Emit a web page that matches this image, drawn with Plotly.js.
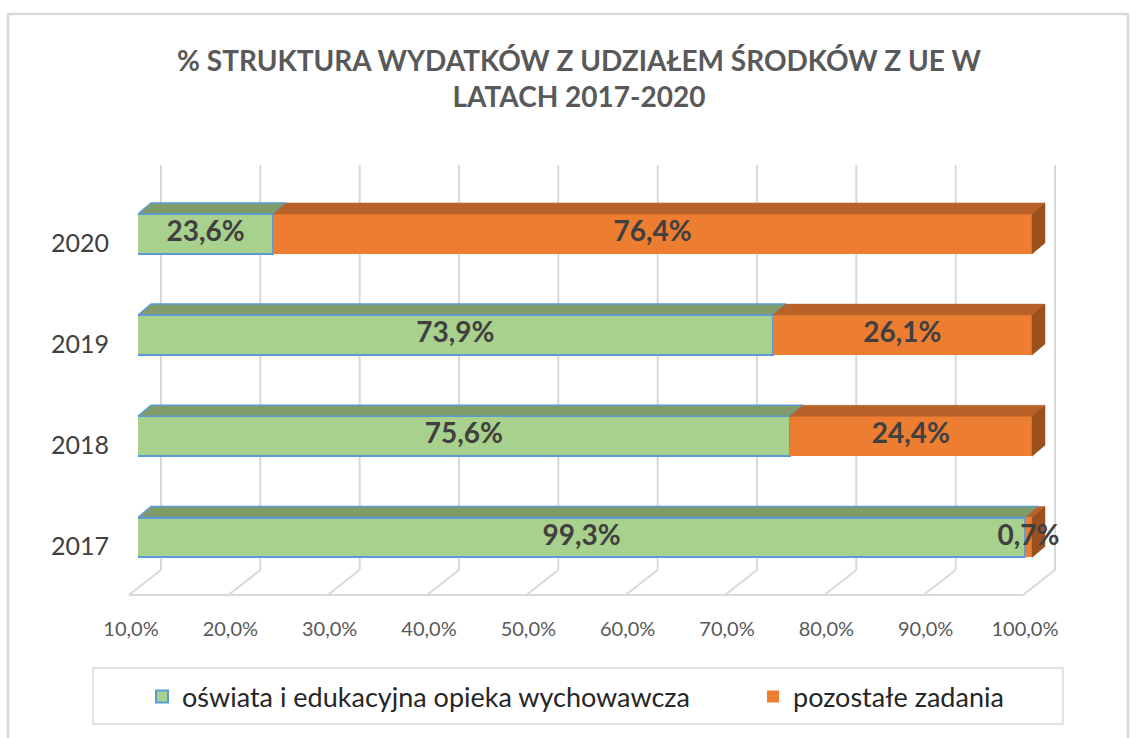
<!DOCTYPE html>
<html><head><meta charset="utf-8">
<script src="https://cdn.plot.ly/plotly-3.0.1.min.js"></script>
<style>html,body{margin:0;padding:0;background:#fff}#chart{width:1136px;height:738px}</style>
</head><body><div id="chart"></div>
<script>
// ---- data ----
const years = ['2017', '2018', '2019', '2020'];
const oswiata = [99.3, 75.6, 73.9, 23.6];
const pozostale = [0.7, 24.4, 26.1, 76.4];
const seriesNames = ['oświata i edukacyjna opieka wychowawcza', 'pozostałe zadania'];
const tickVals = [10, 20, 30, 40, 50, 60, 70, 80, 90, 100];
const tickLabels = ['10,0%', '20,0%', '30,0%', '40,0%', '50,0%', '60,0%', '70,0%', '80,0%', '90,0%', '100,0%'];
const titleText = '% STRUKTURA WYDATKÓW Z UDZIAŁEM ŚRODKÓW Z UE W<br>LATACH 2017-2020';

// ---- geometry (pixels) ----
const W = 1136, H = 738;
const X0PX = 138, X100PX = 1032, XENDPX = 1070;
const S = (X100PX - X0PX) / 90;            // px per percent
const XMIN = 10, XMAX = 10 + (XENDPX - X0PX) / S;
const YC0 = 537.5, K = 101.2;               // px centre of first category, px per category
const YTOPPX = 150, YBOTPX = 600;
const BARW = 0.395;
const DDX = 13 / S, DDY = 11 / K;           // 3D depth of the bars
const BACK = 23, FRONT = -9;                // wall / floor offsets in px
const WALLTOP = 165, FLOORBACK = 570, FLOORFRONT = 595;
const fx = px => px / W, fy = py => 1 - py / H;
const xPx = v => X0PX + (v - XMIN) * S;

const idx = years.map((_, i) => i);
const GREEN = '#A9D18E', GREEN_TOP = '#7F9C69', BLUE = '#5B9BD5';
const ORANGE = '#ED7D31', ORANGE_TOP = '#B8622A', ORANGE_SIDE = '#9A501F';
const fmt = v => v.toFixed(1).replace('.', ',') + '%';

// faces
function topFaces(starts, ends) {
  const x = [], y = [];
  idx.forEach(i => {
    const a = Math.max(starts[i], XMIN), b = ends[i], t = i + BARW / 2;
    x.push(a, a + DDX, b + DDX, b, a, null);
    y.push(t, t + DDY, t + DDY, t, t, null);
  });
  return {x, y};
}
const zeros = idx.map(() => 0);
const cum1 = oswiata.slice();
const cum2 = idx.map(i => oswiata[i] + pozostale[i]);
const gTop = topFaces(zeros, cum1);
const oTop = topFaces(cum1, cum2);
const side = {x: [], y: []};
idx.forEach(i => {
  const b = cum2[i], t = i + BARW / 2, u = i - BARW / 2;
  side.x.push(b, b, b + DDX, b + DDX, b, null);
  side.y.push(u, t, t + DDY, u + DDY, u, null);
});

const traces = [
  {type: 'bar', orientation: 'h', name: seriesNames[0], x: oswiata, y: idx, width: BARW,
   marker: {color: GREEN, line: {color: BLUE, width: 2}}, legend: 'legend', hoverinfo: 'x'},
  {type: 'bar', orientation: 'h', name: seriesNames[1], x: pozostale, y: idx, width: BARW,
   marker: {color: ORANGE, line: {color: BLUE, width: 0}}, legend: 'legend2', hoverinfo: 'x'},
  {type: 'scatter', mode: 'lines', x: gTop.x, y: gTop.y, fill: 'toself', fillcolor: GREEN_TOP,
   line: {color: BLUE, width: 1.5}, showlegend: false, hoverinfo: 'skip'},
  {type: 'scatter', mode: 'lines', x: oTop.x, y: oTop.y, fill: 'toself', fillcolor: ORANGE_TOP,
   line: {color: ORANGE_TOP, width: 0.5}, showlegend: false, hoverinfo: 'skip'},
  {type: 'scatter', mode: 'lines', x: side.x, y: side.y, fill: 'toself', fillcolor: ORANGE_SIDE,
   line: {color: ORANGE_SIDE, width: 0.5}, showlegend: false, hoverinfo: 'skip'},
  {type: 'scatter', mode: 'text', showlegend: false, hoverinfo: 'skip', cliponaxis: false,
   x: idx.map(i => (Math.max(0, XMIN) + cum1[i]) / 2).concat(idx.map(i => (cum1[i] + cum2[i]) / 2)),
   y: idx.concat(idx),
   text: oswiata.map(fmt).concat(pozostale.map(fmt)),
   textposition: 'middle center',
   textfont: {family: 'Lato', size: 28, color: '#404040', weight: 700}}
];

// walls and floor
const shapes = [];
tickVals.forEach(v => {
  const bx = fx(xPx(v) + BACK), ffx = fx(xPx(v) + FRONT);
  shapes.push({type: 'line', xref: 'paper', yref: 'paper', layer: 'below',
    x0: bx, x1: bx, y0: fy(WALLTOP), y1: fy(FLOORBACK), line: {color: '#D9D9D9', width: 2}});
  shapes.push({type: 'line', xref: 'paper', yref: 'paper', layer: 'below',
    x0: bx, x1: ffx, y0: fy(FLOORBACK), y1: fy(FLOORFRONT), line: {color: '#D9D9D9', width: 2}});
});
shapes.push({type: 'line', xref: 'paper', yref: 'paper', layer: 'below',
  x0: fx(xPx(tickVals[0]) + FRONT), x1: fx(xPx(tickVals[tickVals.length - 1]) + FRONT),
  y0: fy(FLOORFRONT), y1: fy(FLOORFRONT), line: {color: '#D9D9D9', width: 2}});
// legend box
shapes.push({type: 'rect', xref: 'paper', yref: 'paper', layer: 'below',
  x0: fx(93), x1: fx(1063), y0: fy(668), y1: fy(724), line: {color: '#D9D9D9', width: 1.5}});
// chart border
shapes.push({type: 'rect', xref: 'paper', yref: 'paper', layer: 'below',
  x0: fx(8), x1: fx(1128), y0: fy(14), y1: fy(760), line: {color: '#D9D9D9', width: 2.5}});

const layout = {
  width: W, height: H,
  margin: {l: 0, r: 0, t: 0, b: 0},
  paper_bgcolor: '#fff', plot_bgcolor: 'rgba(0,0,0,0)',
  barmode: 'stack', bargap: 0,
  showlegend: true,
  title: {text: titleText, x: fx(579), xanchor: 'center', y: fy(71), yref: 'container', yanchor: 'top',
    font: {family: 'Lato', size: 28, color: '#595959', weight: 700}},
  xaxis: {domain: [fx(X0PX), fx(XENDPX)], range: [XMIN, XMAX], tickvals: tickVals, ticktext: tickLabels,
    showgrid: false, zeroline: false, showline: false, ticks: '', automargin: false,
    ticklabelstandoff: 15, ticklabelshift: -7,
    tickfont: {family: 'Lato', size: 20, color: '#595959'}},
  yaxis: {domain: [fy(YBOTPX), fy(YTOPPX)], range: [(YC0 - YBOTPX) / K, (YC0 - YTOPPX) / K],
    tickvals: idx, ticktext: years, showgrid: false, zeroline: false, showline: false, ticks: '',
    automargin: false, ticklabelstandoff: 28, ticklabelshift: 9,
    tickfont: {family: 'Lato', size: 25, color: '#404040'}},
  legend: {x: fx(142), y: fy(697), xanchor: 'left', yanchor: 'middle', orientation: 'h',
    bgcolor: 'rgba(0,0,0,0)', font: {family: 'Lato', size: 27, color: '#262626'}},
  legend2: {x: fx(753), y: fy(697), xanchor: 'left', yanchor: 'middle', orientation: 'h',
    bgcolor: 'rgba(0,0,0,0)', font: {family: 'Lato', size: 27, color: '#262626'}},
  shapes: shapes
};

Plotly.newPlot('chart', traces, layout, {displayModeBar: false, staticPlot: true});
</script></body></html>
